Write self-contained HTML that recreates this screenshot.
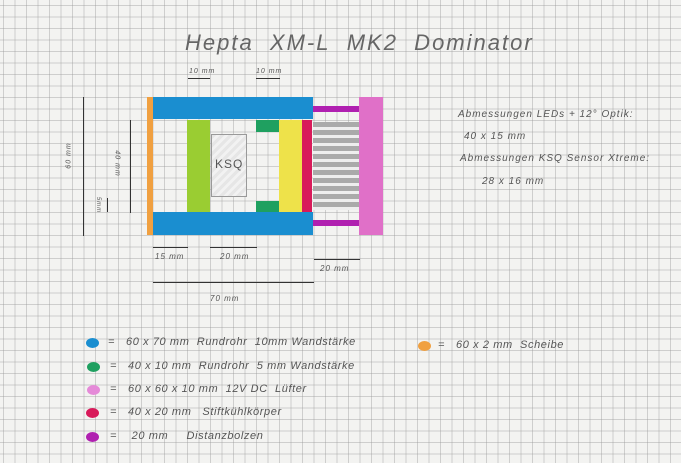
<!DOCTYPE html>
<html><head><meta charset="utf-8"><style>
html,body{margin:0;padding:0}
body{width:681px;height:463px;overflow:hidden;position:relative;background-color:#f3f3f1;
background-image:linear-gradient(to right,rgba(150,150,150,.4) 1px,transparent 1px),linear-gradient(to bottom,rgba(150,150,150,.4) 1px,transparent 1px);
background-size:11.5px 11.5px;background-position:3px 5px;font-family:"Liberation Sans",sans-serif;color:#444}
.r{position:absolute}
.t{position:absolute;white-space:nowrap;font-style:italic;color:#555;letter-spacing:1px}
.hl{position:absolute;height:1px;background:#333}
.vl{position:absolute;width:1px;background:#333}
.blob{position:absolute;width:13px;height:10px;border-radius:50%}
</style></head><body>
<div class="t" style="left:185px;top:30px;font-size:22px;letter-spacing:2px;color:#666;font-weight:300">Hepta&nbsp; XM-L&nbsp; MK2&nbsp; Dominator</div>

<div class="r" style="left:147px;top:97px;width:6px;height:138px;background:#f0a040"></div>
<div class="r" style="left:153px;top:97px;width:160px;height:22px;background:#1a8ed0"></div>
<div class="r" style="left:153px;top:212px;width:160px;height:23px;background:#1a8ed0"></div>
<div class="r" style="left:187px;top:120px;width:23px;height:92px;background:#9acd32"></div>
<div class="r" style="left:211px;top:134px;width:36px;height:63px;border:1px solid #999;box-sizing:border-box;background:repeating-linear-gradient(135deg,#e6e6e6 0 3px,#f2f2f2 3px 6px)"></div>
<div class="t" style="left:215px;top:157px;font-size:12px;font-style:normal;color:#555">KSQ</div>
<div class="r" style="left:256px;top:120px;width:23px;height:12px;background:#1fa060"></div>
<div class="r" style="left:256px;top:201px;width:23px;height:11px;background:#1fa060"></div>
<div class="r" style="left:279px;top:120px;width:23px;height:92px;background:#eee24a"></div>
<div class="r" style="left:302px;top:120px;width:10px;height:92px;background:#d81a5a"></div>
<div class="r" style="left:313px;top:106px;width:46px;height:6px;background:#b020b0"></div>
<div class="r" style="left:313px;top:220px;width:46px;height:6px;background:#b020b0"></div>
<div class="r" style="left:313px;top:122px;width:46px;height:88px;background:repeating-linear-gradient(to bottom,#aaa 0 5px,#eee 5px 8px)"></div>
<div class="r" style="left:359px;top:97px;width:24px;height:138px;background:#e070c8"></div>

<div class="hl" style="left:188px;top:78px;width:22px"></div>
<div class="hl" style="left:256px;top:78px;width:24px"></div>
<div class="t" style="left:189px;top:68px;font-size:7px">10 mm</div>
<div class="t" style="left:256px;top:68px;font-size:7px">10 mm</div>
<div class="vl" style="left:83px;top:97px;height:139px"></div>
<div class="vl" style="left:130px;top:120px;height:93px"></div>
<div class="vl" style="left:107px;top:198px;height:14px"></div>
<div class="t" style="left:56px;top:152px;font-size:7px;transform:rotate(-90deg)">60 mm</div>
<div class="t" style="left:104px;top:160px;font-size:7px;transform:rotate(90deg)">40 mm</div>
<div class="t" style="left:90px;top:202px;font-size:6px;transform:rotate(90deg)">5mm</div>
<div class="hl" style="left:153px;top:247px;width:35px"></div>
<div class="hl" style="left:210px;top:247px;width:47px"></div>
<div class="hl" style="left:314px;top:259px;width:46px"></div>
<div class="hl" style="left:153px;top:282px;width:161px"></div>
<div class="t" style="left:155px;top:252px;font-size:8px">15 mm</div>
<div class="t" style="left:220px;top:252px;font-size:8px">20 mm</div>
<div class="t" style="left:320px;top:264px;font-size:8px">20 mm</div>
<div class="t" style="left:210px;top:294px;font-size:8px">70 mm</div>

<div class="t" style="left:458px;top:109px;font-size:10px">Abmessungen LEDs + 12° Optik:</div>
<div class="t" style="left:464px;top:131px;font-size:10px">40 x 15 mm</div>
<div class="t" style="left:460px;top:153px;font-size:10px">Abmessungen KSQ Sensor Xtreme:</div>
<div class="t" style="left:482px;top:176px;font-size:10px">28 x 16 mm</div>

<div class="blob" style="left:86px;top:338px;background:#1a8ed0"></div>
<div class="blob" style="left:87px;top:362px;background:#1fa060"></div>
<div class="blob" style="left:87px;top:385px;background:#e58ad8"></div>
<div class="blob" style="left:86px;top:408px;background:#d81a5a"></div>
<div class="blob" style="left:86px;top:432px;background:#b020b0"></div>
<div class="blob" style="left:418px;top:341px;background:#f0a040"></div>
<div class="t" style="left:108px;top:336px;font-size:11px;letter-spacing:.6px">=&nbsp;&nbsp; 60 x 70 mm&nbsp; Rundrohr&nbsp; 10mm Wandstärke</div>
<div class="t" style="left:110px;top:360px;font-size:11px;letter-spacing:.6px">=&nbsp;&nbsp; 40 x 10 mm&nbsp; Rundrohr&nbsp; 5 mm Wandstärke</div>
<div class="t" style="left:110px;top:383px;font-size:11px;letter-spacing:.6px">=&nbsp;&nbsp; 60 x 60 x 10 mm&nbsp; 12V DC&nbsp; Lüfter</div>
<div class="t" style="left:110px;top:406px;font-size:11px;letter-spacing:.6px">=&nbsp;&nbsp; 40 x 20 mm&nbsp;&nbsp; Stiftkühlkörper</div>
<div class="t" style="left:110px;top:430px;font-size:11px;letter-spacing:.6px">=&nbsp;&nbsp;&nbsp; 20 mm&nbsp;&nbsp;&nbsp;&nbsp; Distanzbolzen</div>
<div class="t" style="left:438px;top:339px;font-size:11px;letter-spacing:.6px">=&nbsp;&nbsp; 60 x 2 mm&nbsp; Scheibe</div>
</body></html>
